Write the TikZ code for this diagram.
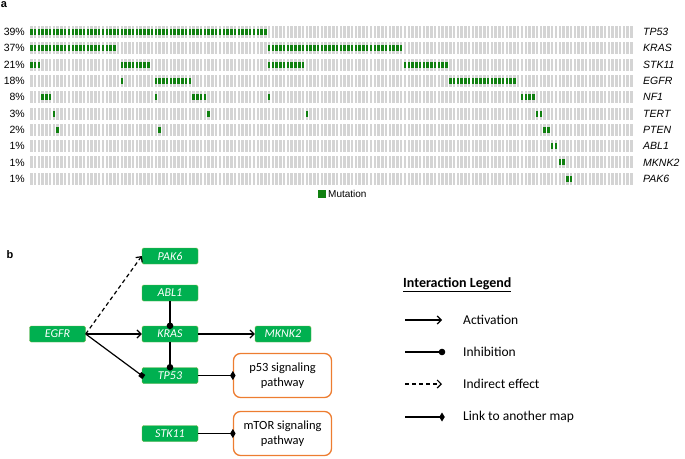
\documentclass[tikz,border=0pt]{standalone}
\usepackage{fontspec}
\setmainfont{Liberation Sans}
\newfontfamily\carlito{Carlito}
\usetikzlibrary{arrows.meta}
\definecolor{cellgray}{RGB}{212,212,212}
\definecolor{mutgreen}{RGB}{16,128,16}
\definecolor{genefill}{RGB}{0,176,80}
\definecolor{genebd}{RGB}{110,180,70}
\definecolor{pathorange}{RGB}{237,125,49}
\newcommand{\mutrow}[2]{\foreach \c in {#2} \fill[mutgreen] (30+3.775*\c,29+16.3*#1) rectangle ++(2.5,6);}
\tikzset{
  gene/.style={draw=genebd,fill=genefill,rounded corners=1.5pt,minimum width=56pt,minimum height=16pt,inner sep=0pt,text=white,font=\carlito\itshape\fontsize{12}{12}\selectfont},
  pathbox/.style={draw=pathorange,line width=1.3pt,rounded corners=7pt,minimum width=98pt,minimum height=44pt,align=center,font=\carlito\fontsize{12.5}{15.5}\selectfont},
  act/.style={line width=1.2pt,-{Straight Barb[length=4pt,width=8pt]}},
  indirect/.style={act,dash pattern=on 4pt off 3pt},
  inh/.style={line width=1.2pt,-{Circle[length=6.5pt,width=6.5pt]},shorten >=-3.25pt},
  inhsq/.style={line width=1.2pt,-{Square[length=5pt,width=5pt]},shorten >=-2.5pt},
  link/.style={line width=1.2pt,-{Turned Square[length=5.5pt,width=9pt]},shorten >=-2.75pt},
  pct/.style={inner sep=0pt,font=\fontsize{10.5}{12}\selectfont},
  leg/.style={anchor=west,inner sep=0pt,font=\carlito\fontsize{13.5}{16}\selectfont}
}
\begin{document}
\begin{tikzpicture}[x=1pt,y=-1pt]
\useasboundingbox (0,0) rectangle (685,458);
\node[font=\bfseries\fontsize{11}{12}\selectfont,inner sep=0pt] (labela) at (4,4.5) {a};
\foreach \r in {0,...,9}
\foreach \c in {0,...,159}
\fill[cellgray] (30+3.775*\c,26+16.3*\r) rectangle ++(2.5,12);
\mutrow{0}{0,...,62}
\mutrow{1}{0,...,22,63,64,...,98}
\mutrow{2}{0,1,2,24,25,...,31,63,64,...,72,99,100,...,110}
\mutrow{3}{24,33,34,...,42,111,112,...,128}
\mutrow{4}{3,4,5,33,43,44,45,46,63,130,131,132,133}
\mutrow{5}{6,47,73,134,135}
\mutrow{6}{7,34,136,137}
\mutrow{7}{138,139}
\mutrow{8}{140,141}
\mutrow{9}{142,143}
\foreach \p/\g [count=\r from 0] in {39/TP53,37/KRAS,21/STK11,18/EGFR,8/NF1,3/TERT,2/PTEN,1/ABL1,1/MKNK2,1/PAK6} {
\node[pct,anchor=east] (pct\g) at (25,32+16.3*\r) {\p\%};
\node[pct,anchor=west] (gene\g) at (643,32+16.3*\r) {\itshape\g};
}
\fill[mutgreen] (318,190) rectangle (326,198);
\node[anchor=west,inner sep=0pt,font=\fontsize{10}{12}\selectfont] (mutlab) at (328,194) {Mutation};

\node[font=\bfseries\fontsize{11}{12}\selectfont,inner sep=0pt] (labelb) at (10,255) {b};
\node[gene] (EGFR) at (57.5,334) {EGFR};
\node[gene] (PAK6) at (170,256) {PAK6};
\node[gene] (ABL1) at (170,293) {ABL1};
\node[gene] (KRAS) at (170,334) {KRAS};
\node[gene] (TP53) at (170,375.5) {TP53};
\node[gene] (STK11) at (170,433.5) {STK11};
\node[gene] (MKNK2) at (283,334) {MKNK2};
\node[pathbox] (p53) at (282.5,375.5) {p53 signaling\\pathway};
\node[pathbox] (mTOR) at (282.5,433.5) {mTOR signaling\\pathway};
\draw[indirect] (EGFR.east) -- (PAK6.west);
\draw[act] (EGFR.east) -- (KRAS.west);
\draw[inhsq] (EGFR.east) -- (TP53.west);
\draw[inh] (ABL1.south) -- (KRAS.north);
\draw[inh] (KRAS.south) -- (TP53.north);
\draw[act] (KRAS.east) -- (MKNK2.west);
\draw[link] (TP53.east) -- (p53.west);
\draw[link] (STK11.east) -- (mTOR.west);

\node[anchor=west,inner sep=0pt,font=\carlito\bfseries\fontsize{14}{16}\selectfont] (legtitle) at (403,285) {\underline{Interaction Legend}};
\foreach \y/\s/\t [count=\i] in {320/act/Activation,352/inh/Inhibition,384/indirect/Indirect effect,417/link/Link to another map} {
\coordinate (ls\i) at (405,\y);
\coordinate (le\i) at (442,\y);
\draw[\s] (ls\i) -- (le\i);
\node[leg] (legtxt\i) at (463,\y) {\t};
}
\end{tikzpicture}
\end{document}
